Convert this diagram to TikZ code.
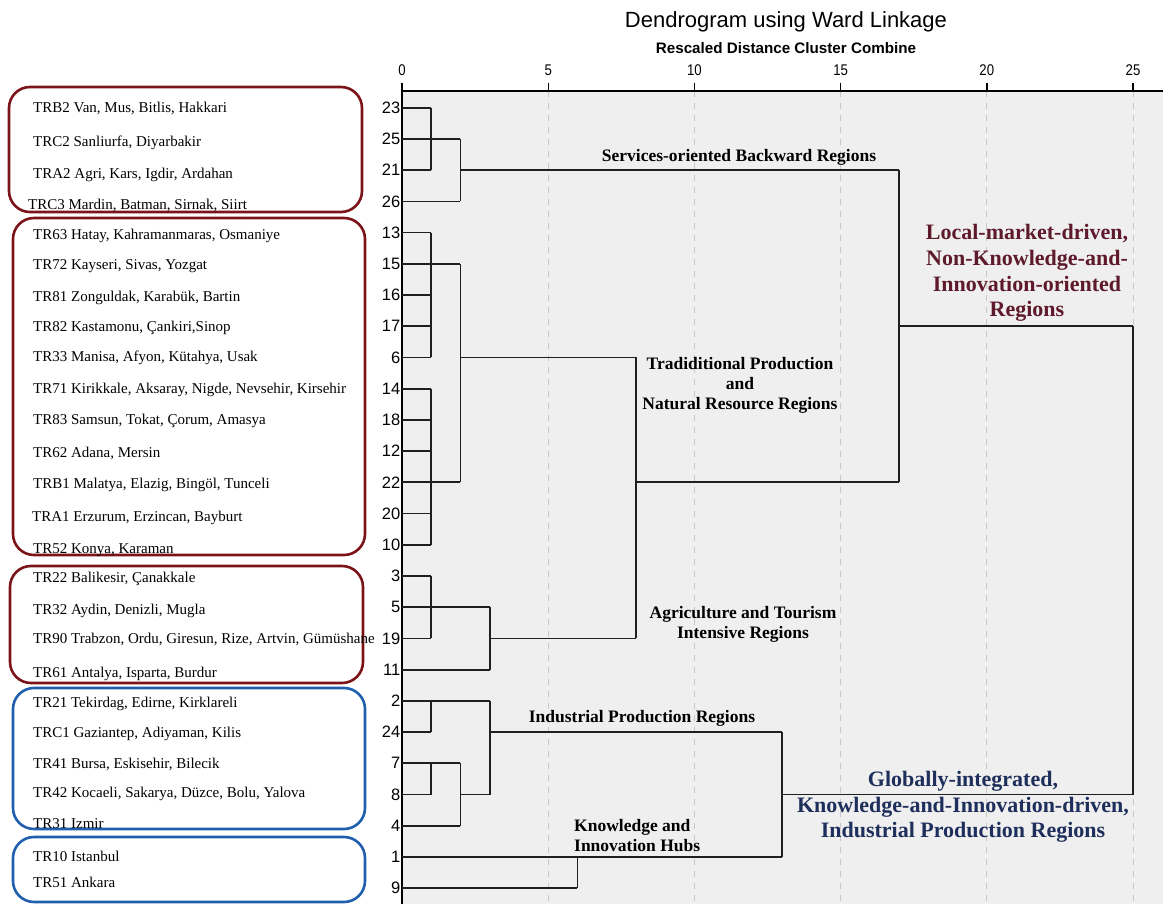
\documentclass[tikz,border=0pt]{standalone}
\usepackage{fontspec}
\usetikzlibrary{calc}
\setmainfont{Liberation Serif}
\setsansfont{Liberation Sans}
\definecolor{panel}{HTML}{EFEFEF}
\definecolor{gridc}{HTML}{C8C8C8}
\definecolor{boxred}{HTML}{7A1418}
\definecolor{boxblue}{HTML}{1F5FAD}
\definecolor{maroon}{HTML}{5E1A2C}
\definecolor{navy}{HTML}{1F2F5C}
\begin{document}
\begin{tikzpicture}[x=1pt,y=-1pt,
  leaf/.style={font=\fontsize{15}{16}\selectfont, anchor=base west, inner sep=0pt},
  num/.style={font=\sffamily\fontsize{16.5}{17}\selectfont, anchor=east, inner sep=0pt},
  ticklab/.style={font=\sffamily\fontsize{15.5}{17}\selectfont, inner sep=0pt},
  clab/.style={font=\bfseries\fontsize{17.5}{20}\selectfont, align=center, inner sep=0pt},
  biglab/.style={font=\bfseries\fontsize{22}{25.6}\selectfont, align=center, inner sep=0pt},
  dend/.style={line width=1.7pt, draw=black!88},
  gridline/.style={draw=gridc, line width=1pt, dash pattern=on 6pt off 6pt},
  redbox/.style={draw=boxred, line width=2.6pt, rounded corners=21pt},
  bluebox/.style={draw=boxblue, line width=2.6pt, rounded corners=21pt}]
\useasboundingbox (0,0) rectangle (1163,904);
% panel
\fill[panel] (402,91) rectangle (1163,904);
% titles
\node[font=\sffamily\fontsize{22}{24}\selectfont, inner sep=0pt] (title) at (786,22) {Dendrogram using Ward Linkage};
\node[font=\sffamily\bfseries\fontsize{15.2}{16}\selectfont, inner sep=0pt] (subtitle) at (786,48) {Rescaled Distance Cluster Combine};

\begin{scope}[shift={(402pt,-107.7pt)}, x=29.24pt, y=-31.22pt]
  % grid
  \foreach \d in {5,10,15,20,25} \draw[gridline] (\d,-0.536) -- (\d,25.5);
  % axis
  \draw[line width=1.4pt] (0,-0.536) -- (26.05,-0.536);
  \draw[line width=1.4pt] (0,-0.8) -- (0,25.5);
  \foreach \d in {0,5,10,15,20,25} {
    \draw[line width=1.4pt] (\d,-0.8) -- (\d,-0.536);
    \node[ticklab] (t\d) at (\d,-1.2) {\scalebox{0.85}[1]{\d}};
  }
  % leaf numbers
  \foreach \n [count=\r from 0] in {23,25,21,26,13,15,16,17,6,14,18,12,22,20,10,3,5,19,11,2,24,7,8,4,1,9} {
    \coordinate (r\n) at (0,\r);
    \node[num] (n\n) at ($(0,\r)+(-0.05,0)$) {\n};
  }
  % dendrogram - group A
  \draw[dend] (0,0) -- (1,0) (0,2) -- (1,2) (1,0) -- (1,2)
              (0,1) -- (2,1) (0,3) -- (2,3) (2,1) -- (2,3)
              (2,2) -- (17,2);
  % group B
  \foreach \r in {4,...,14} \draw[dend] (0,\r) -- (1,\r);
  \draw[dend] (1,4) -- (1,8) (1,9) -- (1,14)
              (1,5) -- (2,5) (1,12) -- (2,12) (2,5) -- (2,12)
              (2,8) -- (8,8) (8,8) -- (8,17) (8,12) -- (17,12)
              (17,2) -- (17,12) (17,7) -- (25,7) (25,7) -- (25,22);
  % group C
  \draw[dend] (0,15) -- (1,15) (0,17) -- (1,17) (1,15) -- (1,17)
              (0,16) -- (3,16) (0,18) -- (3,18) (3,16) -- (3,18)
              (3,17) -- (8,17);
  % group D
  \draw[dend] (0,19) -- (3,19) (0,20) -- (1,20) (1,19) -- (1,20)
              (0,21) -- (2,21) (0,22) -- (1,22) (1,21) -- (1,22)
              (0,23) -- (2,23) (2,21) -- (2,23) (2,22) -- (3,22)
              (3,19) -- (3,22) (3,20) -- (13,20) (13,20) -- (13,24)
              (13,22) -- (25,22);
  % group E
  \draw[dend] (0,24) -- (13,24) (0,25) -- (6,25) (6,24) -- (6,25);
\end{scope}

% left boxes
\draw[redbox] (9,87) rectangle (362,212);
\draw[redbox] (13,218) rectangle (365,555);
\draw[redbox] (10,566) rectangle (363,683);
\draw[bluebox] (13,688) rectangle (365,829);
\draw[bluebox] (13,837) rectangle (365,902);

% leaf labels
\node[leaf] (l1) at (33,113) {TRB2 Van, Mus, Bitlis, Hakkari};
\node[leaf] (l2) at (33,147) {TRC2 Sanliurfa, Diyarbakir};
\node[leaf] (l3) at (33,179) {TRA2 Agri, Kars, Igdir, Ardahan};
\node[leaf] (l4) at (28,210) {TRC3 Mardin, Batman, Sirnak, Siirt};
\node[leaf] (l5) at (33,240) {TR63 Hatay, Kahramanmaras, Osmaniye};
\node[leaf] (l6) at (33,270) {TR72 Kayseri, Sivas, Yozgat};
\node[leaf] (l7) at (33,302) {TR81 Zonguldak, Karabük, Bartin};
\node[leaf] (l8) at (33,332) {TR82 Kastamonu, Çankiri,Sinop};
\node[leaf] (l9) at (33,362) {TR33 Manisa, Afyon, Kütahya, Usak};
\node[leaf] (l10) at (33,393) {TR71 Kirikkale, Aksaray, Nigde, Nevsehir, Kirsehir};
\node[leaf] (l11) at (33,424) {TR83 Samsun, Tokat, Çorum, Amasya};
\node[leaf] (l12) at (33,457) {TR62 Adana, Mersin};
\node[leaf] (l13) at (33,488) {TRB1 Malatya, Elazig, Bingöl, Tunceli};
\node[leaf] (l14) at (32,521) {TRA1 Erzurum, Erzincan, Bayburt};
\node[leaf] (l15) at (33,553) {TR52 Konya, Karaman};
\node[leaf] (l16) at (33,582) {TR22 Balikesir, Çanakkale};
\node[leaf] (l17) at (33,614) {TR32 Aydin, Denizli, Mugla};
\node[leaf] (l18) at (33,643) {TR90 Trabzon, Ordu, Giresun, Rize, Artvin, Gümüshane};
\node[leaf] (l19) at (33,677) {TR61 Antalya, Isparta, Burdur};
\node[leaf] (l20) at (33,707) {TR21 Tekirdag, Edirne, Kirklareli};
\node[leaf] (l21) at (33,737) {TRC1 Gaziantep, Adiyaman, Kilis};
\node[leaf] (l22) at (33,768) {TR41 Bursa, Eskisehir, Bilecik};
\node[leaf] (l23) at (33,797) {TR42 Kocaeli, Sakarya, Düzce, Bolu, Yalova};
\node[leaf] (l24) at (33,828) {TR31 Izmir};
\node[leaf] (l25) at (33,861) {TR10 Istanbul};
\node[leaf] (l26) at (33,887) {TR51 Ankara};

% cluster labels
\node[clab] (c1) at (739,157) {Services-oriented Backward Regions};
\node[clab] (c2) at (740,385) {Tradiditional Production\\and\\Natural Resource Regions};
\node[clab] (c3) at (743,624) {Agriculture and Tourism\\Intensive Regions};
\node[clab] (c4) at (642,718) {Industrial Production Regions};
\node[clab, align=left, anchor=west] (c5) at (574,836) {Knowledge and\\Innovation Hubs};
\node[biglab, text=maroon] (b1) at (1027,273) {Local-market-driven,\\Non-Knowledge-and-\\Innovation-oriented\\Regions};
\node[biglab, text=navy] (b2) at (963,807) {Globally-integrated,\\Knowledge-and-Innovation-driven,\\Industrial Production Regions};
\end{tikzpicture}
\end{document}
